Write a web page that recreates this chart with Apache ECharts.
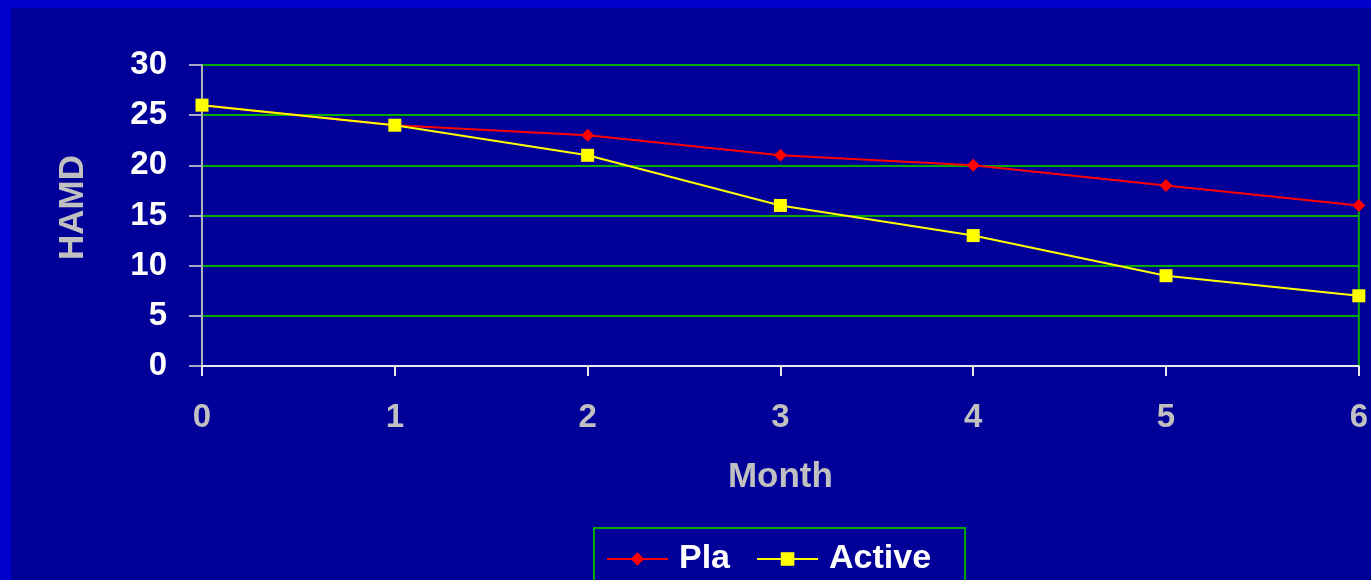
<!DOCTYPE html>
<html>
<head>
<meta charset="utf-8">
<script src="https://cdn.jsdelivr.net/npm/echarts@6/dist/echarts.min.js"></script>
<style>
  html, body { margin: 0; padding: 0; background: #0000CC; overflow: hidden; }
  #chart { position: absolute; left: 11px; top: 8px; width: 1360px; height: 572px; background: #000099; }
</style>
</head>
<body>
<div id="chart"></div>
<script>
// Months of follow-up and mean HAMD score per arm
const months = ['0', '1', '2', '3', '4', '5', '6'];
const placebo = [26, 24, 23, 21, 20, 18, 16];
const active = [26, 24, 21, 16, 13, 9, 7];

const FONT = '"Liberation Sans", Arial, sans-serif';
const chart = echarts.init(document.getElementById('chart'), null, { renderer: 'canvas' });

chart.setOption({
  animation: false,
  backgroundColor: '#000099',
  grid: {
    left: 191, right: 11, top: 57, bottom: 214,
    show: true, borderColor: '#00AA00', borderWidth: 2, backgroundColor: 'transparent'
  },
  legend: {
    left: 583, top: 520,
    padding: [14, 34, 30, 12],
    borderColor: '#00AA00', borderWidth: 2,
    itemWidth: 61, itemHeight: 17, itemGap: 26,
    textStyle: { color: '#FFFFFF', fontFamily: FONT, fontWeight: 'bold', fontSize: 34, padding: [0, 0, 0, 6] },
    data: ['Pla', 'Active']
  },
  xAxis: {
    type: 'category',
    data: months,
    boundaryGap: false,
    name: 'Month',
    nameLocation: 'middle',
    nameGap: 94,
    nameTextStyle: { color: '#C0C0C0', fontFamily: FONT, fontWeight: 'bold', fontSize: 35 },
    axisLine: { lineStyle: { color: '#E8E8E8', width: 2 } },
    axisTick: { show: true, length: 10, lineStyle: { color: '#E8E8E8', width: 2 } },
    axisLabel: { color: '#C0C0C0', fontFamily: FONT, fontWeight: 'bold', fontSize: 33, margin: 35 },
    splitLine: { show: false }
  },
  yAxis: {
    type: 'value',
    min: 0, max: 30, interval: 5,
    name: 'HAMD',
    nameLocation: 'middle',
    nameGap: 111,
    nameRotate: 90,
    nameTextStyle: { color: '#C0C0C0', fontFamily: FONT, fontWeight: 'bold', fontSize: 35, padding: [0, 0, 0, 16] },
    axisLine: { show: true, lineStyle: { color: '#B0B0B0', width: 2 } },
    axisTick: { show: true, length: 13, lineStyle: { color: '#A8A8C8', width: 2 } },
    axisLabel: { color: '#FFFFFF', fontFamily: FONT, fontWeight: 'bold', fontSize: 33, margin: 35 },
    splitLine: { show: true, lineStyle: { color: '#00AA00', width: 2 } }
  },
  series: [
    {
      name: 'Pla', type: 'line', data: placebo,
      symbol: 'diamond', symbolSize: 13,
      lineStyle: { color: '#FF0000', width: 2 },
      itemStyle: { color: '#FF0000' }
    },
    {
      name: 'Active', type: 'line', data: active,
      symbol: 'rect', symbolSize: 13,
      lineStyle: { color: '#FFFF00', width: 2 },
      itemStyle: { color: '#FFFF00' }
    }
  ]
});
</script>
</body>
</html>
